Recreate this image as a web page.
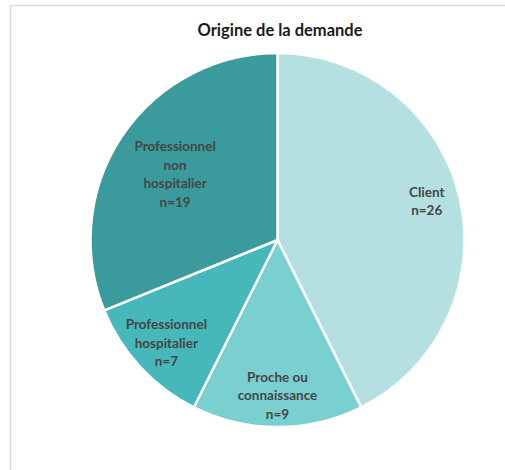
<!DOCTYPE html>
<html>
<head>
<meta charset="utf-8">
<script src="https://cdn.jsdelivr.net/npm/d3@7"></script>
<style>
  body { margin: 0; background: #fff; }
  svg { display: block; }
  text { font-family: Lato, 'Open Sans', sans-serif; }
</style>
</head>
<body>
<div id="chart"></div>
<script>
const title = 'Origine de la demande'
const categories = ['Client', 'Proche ou connaissance', 'Professionnel hospitalier', 'Professionnel non hospitalier']
const values = [26, 9, 7, 19]
// how the labels wrap inside each slice
const labelLines = [
  ['Client'],
  ['Proche ou', 'connaissance'],
  ['Professionnel', 'hospitalier'],
  ['Professionnel', 'non', 'hospitalier']
]
const colors = ['#b5e0e1', '#7acfd1', '#46b8bb', '#3a9a9c']

const width = 505
const height = 470
const cx = 277.5
const cy = 240
const radius = 187

const svg = d3
  .select('#chart')
  .append('svg')
  .attr('width', width)
  .attr('height', height)

// chart frame (cropped on right and bottom)
svg
  .append('path')
  .attr('d', 'M10.5,' + height + ' V5.5 H' + width)
  .attr('fill', 'none')
  .attr('stroke', '#d9d9d9')
  .attr('stroke-width', 1.5)

svg
  .append('text')
  .attr('x', 280)
  .attr('y', 36)
  .attr('text-anchor', 'middle')
  .attr('font-size', 16.5)
  .attr('font-weight', 'bold')
  .attr('fill', '#1a1a1a')
  .text(title)

const data = categories.map((c, i) => ({ name: c, value: values[i], lines: labelLines[i], color: colors[i] }))

const pie = d3
  .pie()
  .value(d => d.value)
  .sort(null)

const arc = d3
  .arc()
  .innerRadius(0)
  .outerRadius(radius)

const g = svg.append('g').attr('transform', 'translate(' + cx + ',' + cy + ')')

const slices = pie(data)

g.selectAll('.slice')
  .data(slices)
  .enter()
  .append('path')
  .attr('class', 'slice')
  .attr('d', arc)
  .attr('fill', d => d.data.color)
  .attr('stroke', '#fff')
  .attr('stroke-width', 2.5)
  .attr('stroke-linejoin', 'round')

// label distance from centre, as a share of the radius, and a small vertical nudge
const labelShare = [0.82, 0.83, 0.81, 0.66]
const labelNudge = [-4, 0, 0, 3]
const lineHeight = 18.5

slices.forEach((d, i) => {
  const r = radius * labelShare[i]
  const a = (d.startAngle + d.endAngle) / 2
  const x = Math.sin(a) * r
  const y = -Math.cos(a) * r + labelNudge[i]
  const lines = d.data.lines.concat(['n=' + d.data.value])
  const t = g
    .append('text')
    .attr('text-anchor', 'middle')
    .attr('font-size', 13.5)
    .attr('font-weight', 'bold')
    .attr('fill', '#454545')
  lines.forEach((l, j) => {
    t.append('tspan')
      .attr('x', x)
      .attr('y', y + (j - (lines.length - 1) / 2) * lineHeight + 5)
      .text(l)
  })
})
</script>
</body>
</html>
